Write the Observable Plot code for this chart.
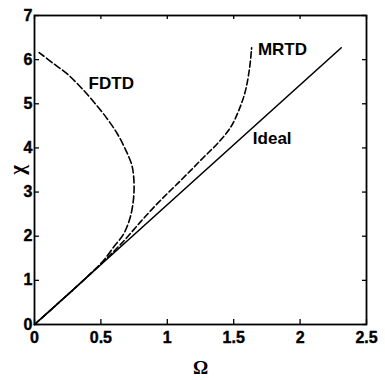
<!DOCTYPE html>
<html><head><meta charset="utf-8">
<script src="https://cdn.jsdelivr.net/npm/d3@7"></script>
<script src="https://cdn.jsdelivr.net/npm/@observablehq/plot@0.6"></script>
<style>
body{margin:0;background:#fff}
</style>
</head><body><div id="chart"></div>
<script>
const xTicks = [0, 0.5, 1, 1.5, 2, 2.5];
const yTicks = [0, 1, 2, 3, 4, 5, 6, 7];

const idealOmega = [0, 2.31];
const idealChi = [0, 6.27];

const fdtdOmega = [0, 0.2, 0.35, 0.445, 0.52, 0.595, 0.671, 0.721, 0.744, 0.75, 0.745, 0.732, 0.689, 0.626, 0.55, 0.45, 0.35, 0.249, 0.148, 0.035];
const fdtdChi   = [0, 0.54, 0.95, 1.22, 1.45, 1.75, 2.05, 2.43, 2.8, 3.1, 3.4, 3.62, 3.94, 4.31, 4.65, 5.03, 5.37, 5.67, 5.9, 6.16];

const mrtdOmega = [0, 0.3, 0.5, 0.65, 0.8, 0.9, 0.998, 1.073, 1.173, 1.274, 1.375, 1.475, 1.537, 1.588, 1.62, 1.635];
const mrtdChi   = [0, 0.81, 1.37, 1.82, 2.33, 2.66, 2.96, 3.18, 3.48, 3.79, 4.09, 4.46, 4.84, 5.29, 5.82, 6.27];

const curveNames = ["FDTD", "MRTD", "Ideal"];
const curveLabelOmega = [0.578, 1.867, 1.79];
const curveLabelChi = [5.45, 6.24, 4.21];

const toRows = (xs, ys) => xs.map((x, i) => ({x, y: ys[i]}));
const labels = curveNames.map((n, i) => ({n, x: curveLabelOmega[i], y: curveLabelChi[i]}));

const W = 385, H = 380, mL = 34, mR = 19, mT = 15, mB = 56;
const pw = W - mL - mR, ph = H - mT - mB;
const font = "'Liberation Sans', Arial, Helvetica, sans-serif";
const serif = "'Liberation Serif', 'Times New Roman', serif";

const chart = Plot.plot({
  width: W, height: H,
  marginLeft: mL, marginRight: mR, marginTop: mT, marginBottom: mB,
  x: {domain: [0, 2.5]},
  y: {domain: [0, 7]},
  style: {fontFamily: font, fontSize: "16px", fontWeight: "bold", background: "white", color: "black"},
  marks: [
    Plot.line(toRows(idealOmega, idealChi), {x: "x", y: "y", stroke: "black", strokeWidth: 1.6}),
    Plot.line(toRows(fdtdOmega, fdtdChi), {x: "x", y: "y", stroke: "black", strokeWidth: 1.6, strokeDasharray: "7,3", curve: "catmull-rom"}),
    Plot.line(toRows(mrtdOmega, mrtdChi), {x: "x", y: "y", stroke: "black", strokeWidth: 1.6, strokeDasharray: "6,3", curve: "catmull-rom"}),
    Plot.frame({stroke: "black", strokeWidth: 1.8}),
    Plot.tickX(xTicks, {x: d => d, insetTop: ph - 5, stroke: "black", strokeWidth: 1.3}),
    Plot.tickX(xTicks, {x: d => d, insetBottom: ph - 4, stroke: "black", strokeWidth: 1.3}),
    Plot.tickY(yTicks, {y: d => d, insetRight: pw - 5, stroke: "black", strokeWidth: 1.3}),
    Plot.tickY(yTicks, {y: d => d, insetLeft: pw - 4, stroke: "black", strokeWidth: 1.3}),
    Plot.axisX({ticks: xTicks, tickSize: 0, tickPadding: 7, tickFormat: d => String(d), fontSize: 16, label: null}),
    Plot.axisY({ticks: yTicks, tickSize: 0, tickPadding: 2, tickFormat: d => String(d), fontSize: 16, label: null}),
    Plot.text(labels, {x: "x", y: "y", text: "n", fontSize: 17, fill: "black"}),
    Plot.text(["Ω"], {frameAnchor: "bottom", lineAnchor: "middle", textAnchor: "middle", dy: 43, fontSize: 19, fontFamily: serif, fill: "black"}),
    Plot.text(["χ"], {frameAnchor: "left", lineAnchor: "middle", textAnchor: "middle", dx: -17, rotate: -90, fontSize: 21, fontFamily: serif, fill: "black"})
  ]
});
d3.select(chart).selectAll("text").style("font-weight", "bold");
d3.select(chart).selectAll("g[aria-label$='tick label'] text")
  .style("font-size", "16px").style("font-family", font)
  .style("stroke", "black").style("stroke-width", "0.4px");
document.getElementById("chart").appendChild(chart);
</script>
</body></html>
